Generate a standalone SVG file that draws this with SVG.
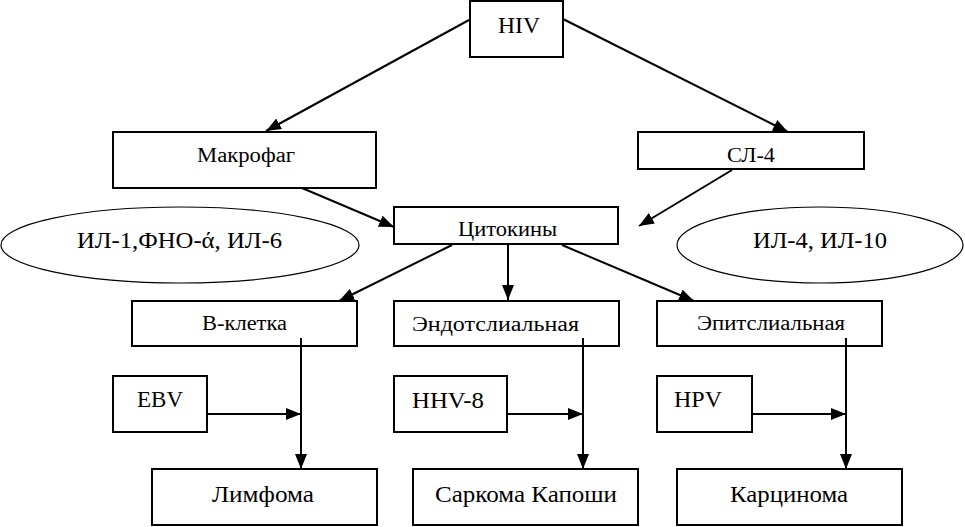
<svg xmlns="http://www.w3.org/2000/svg" width="965" height="527" viewBox="0 0 965 527" font-family="Liberation Serif, DejaVu Serif, serif">
<defs>
<marker id="ah" markerUnits="userSpaceOnUse" markerWidth="16" markerHeight="12" refX="15" refY="6" orient="auto">
<path d="M0,0 L15,6 L0,12 Z" fill="#000"/>
</marker>
<style>
.b{fill:#fff;stroke:#000;stroke-width:2}
.e{fill:#fff;stroke:#000;stroke-width:1.2}
.L{font-size:24px;fill:#000}
.S{font-size:20px;fill:#000}
.c{stroke:#000;stroke-width:2;fill:none;marker-end:url(#ah)}
</style>
</defs>
<rect width="965" height="527" fill="#fff"/>
<g id="hiv"><rect class="b" x="470" y="1" width="93" height="56"/><text class="L" font-family="Liberation Serif" x="498" y="33" textLength="42" lengthAdjust="spacingAndGlyphs">HIV</text></g>
<g id="makrofag"><rect class="b" x="113" y="132" width="263" height="56"/><text class="S" font-family="Liberation Serif" x="197" y="162" textLength="98" lengthAdjust="spacingAndGlyphs">Макрофаг</text></g>
<g id="sl4"><rect class="b" x="638" y="132" width="226" height="37"/><text class="S" font-family="Liberation Serif" x="727" y="162" textLength="48" lengthAdjust="spacingAndGlyphs">СЛ-4</text></g>
<g id="cytokines"><rect class="b" x="394" y="207" width="224" height="37"/><text class="S" font-family="Liberation Serif" x="458" y="236" textLength="99" lengthAdjust="spacingAndGlyphs">Цитокины</text></g>
<g id="il1"><ellipse class="e" cx="180" cy="245" rx="179" ry="38"/><text class="L" font-family="Liberation Serif" x="77" y="248" textLength="205" lengthAdjust="spacingAndGlyphs">ИЛ-1,ФНО-ά, ИЛ-6</text></g>
<g id="il4"><ellipse class="e" cx="820" cy="245" rx="143" ry="38"/><text class="L" font-family="Liberation Serif" x="753" y="248" textLength="134" lengthAdjust="spacingAndGlyphs">ИЛ-4, ИЛ-10</text></g>
<g id="bcell"><rect class="b" x="132" y="301" width="225" height="45"/><text class="S" font-family="Liberation Serif" x="202" y="330" textLength="85" lengthAdjust="spacingAndGlyphs">В-клетка</text></g>
<g id="endo"><rect class="b" x="394" y="301" width="225" height="45"/><text class="S" font-family="Liberation Serif" x="412" y="331" textLength="167" lengthAdjust="spacingAndGlyphs">Эндотслиальная</text></g>
<g id="epi"><rect class="b" x="657" y="301" width="225" height="45"/><text class="S" font-family="Liberation Serif" x="697" y="330" textLength="148" lengthAdjust="spacingAndGlyphs">Эпитслиальная</text></g>
<g id="ebv"><rect class="b" x="113" y="376" width="94" height="56"/><text class="L" font-family="Liberation Serif" x="137" y="407" textLength="46" lengthAdjust="spacingAndGlyphs">EBV</text></g>
<g id="hhv8"><rect class="b" x="394" y="376" width="113" height="56"/><text class="L" font-family="Liberation Serif" x="412" y="408" textLength="72" lengthAdjust="spacingAndGlyphs">HHV-8</text></g>
<g id="hpv"><rect class="b" x="657" y="376" width="95" height="56"/><text class="L" font-family="Liberation Serif" x="674" y="407" textLength="48" lengthAdjust="spacingAndGlyphs">HPV</text></g>
<g id="lymphoma"><rect class="b" x="152" y="469" width="225" height="56"/><text class="L" font-family="Liberation Serif" x="212" y="502" textLength="102" lengthAdjust="spacingAndGlyphs">Лимфома</text></g>
<g id="kaposi"><rect class="b" x="413" y="469" width="225" height="56"/><text class="L" font-family="Liberation Serif" x="435" y="502" textLength="182" lengthAdjust="spacingAndGlyphs">Саркома Капоши</text></g>
<g id="carcinoma"><rect class="b" x="677" y="469" width="225" height="56"/><text class="L" font-family="Liberation Serif" x="730" y="502" textLength="118" lengthAdjust="spacingAndGlyphs">Карцинома</text></g>
<g id="connectors">
<line class="c" x1="469" y1="20" x2="266" y2="131"/>
<line class="c" x1="563" y1="19" x2="788" y2="132"/>
<line class="c" x1="302" y1="188" x2="394" y2="227"/>
<line class="c" x1="732" y1="170" x2="639" y2="226"/>
<line class="c" x1="452" y1="245" x2="339" y2="301"/>
<line class="c" x1="508" y1="244" x2="508" y2="300"/>
<line class="c" x1="562" y1="245" x2="694" y2="301"/>
<line class="c" x1="301" y1="338" x2="301" y2="469"/>
<line class="c" x1="583" y1="338" x2="583" y2="469"/>
<line class="c" x1="846" y1="338" x2="846" y2="469"/>
<line class="c" x1="207" y1="414" x2="301" y2="414"/>
<line class="c" x1="507" y1="414" x2="583" y2="414"/>
<line class="c" x1="752" y1="414" x2="846" y2="414"/>
</g>
</svg>
